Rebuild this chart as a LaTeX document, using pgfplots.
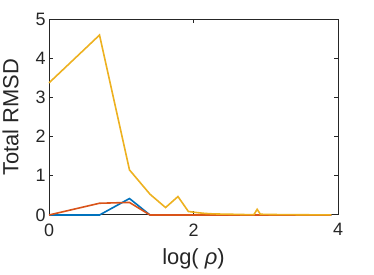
\documentclass[border=0pt]{standalone}
\usepackage{fontspec}
\setmainfont{Liberation Sans}
\usepackage{pgfplots}
\pgfplotsset{compat=1.18}
\definecolor{mblue}{rgb}{0,0.447,0.741}
\definecolor{mred}{rgb}{0.85,0.325,0.098}
\definecolor{myellow}{rgb}{0.929,0.694,0.125}
\definecolor{axgray}{rgb}{0.15,0.15,0.15}
\begin{document}
\begin{tikzpicture}
\begin{axis}[
  scale only axis,
  width=289bp, height=196bp,
  xmin=0, xmax=4, ymin=0, ymax=5,
  xtick={0,2,4}, ytick={0,1,2,3,4,5},
  tick align=inside,
  major tick length=4bp,
  axis line style={axgray, line width=1bp},
  every tick/.style={axgray, line width=1bp},
  tick label style={font=\fontsize{18}{18}\selectfont, text=axgray},
  xticklabel style={yshift=-5bp},
  /pgf/number format/assume math mode=true,
  xlabel={log( \textit{ρ})},
  ylabel={Total RMSD},
  label style={font=\fontsize{22}{22}\selectfont, text=axgray},
  xlabel style={yshift=-6bp},
  ylabel style={yshift=10bp},
  clip=false,
]
\addplot[mblue, line width=1.6bp] coordinates {
(0,0) (0.699,0) (1.114,0.42) (1.398,0) (1.613,0) (2.0,0) (3.0,0) (3.907,0)
};
\addplot[mred, line width=1.6bp] coordinates {
(0,0) (0.699,0.30) (1.114,0.32) (1.398,0) (1.613,0) (2.0,0) (3.0,0) (3.907,0)
};
\addplot[myellow, line width=1.6bp] coordinates {
(0,3.37) (0.699,4.59) (1.114,1.15) (1.398,0.53) (1.613,0.19) (1.785,0.47)
(1.929,0.09) (2.053,0.06) (2.161,0.04) (2.258,0.03) (2.344,0.025) (2.496,0.02)
(2.624,0.015) (2.736,0.01) (2.787,0.01) (2.836,0.01) (2.881,0.145) (2.925,0.02)
(3.006,0.015) (3.114,0.012) (3.270,0.01) (3.516,0.006) (3.708,0.004) (3.865,0.003) (3.907,0.003)
};
\end{axis}
\pgfresetboundingbox
\path (current axis.south west) ++(-49bp,-60bp) coordinate (A);
\path (current axis.north east) ++(36bp,19bp) coordinate (B);
\path[use as bounding box] (A) rectangle (B);
\end{tikzpicture}
\end{document}
